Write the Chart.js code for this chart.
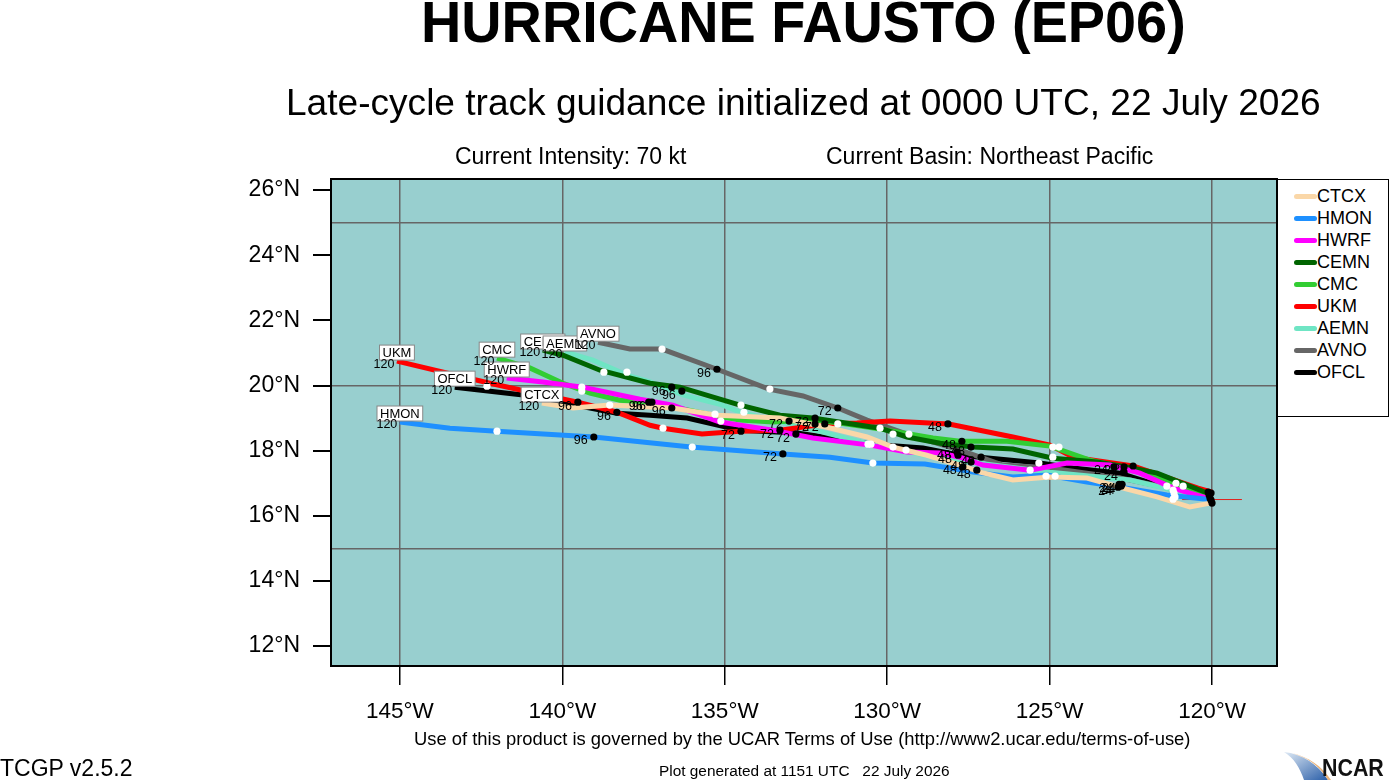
<!DOCTYPE html>
<html>
<head>
<meta charset="utf-8">
<title>Hurricane Fausto track guidance</title>
<script src="https://cdn.jsdelivr.net/npm/chart.js@4"></script>
<style>
  html, body { margin: 0; padding: 0; background: #fff; }
  body { width: 1389px; height: 780px; overflow: hidden; position: relative; font-family: "Liberation Sans", Arial, sans-serif; color: #000; }
  #wrap { position: absolute; left: 0; top: 0; width: 1389px; height: 780px; }
  .txt { position: absolute; white-space: nowrap; line-height: 1; }
  #legend { position: absolute; left: 1277px; top: 179px; width: 112px; height: 238px; box-sizing: border-box; border: 1.5px solid #000; background: #fff; }
  .lg { position: absolute; left: 0; font-size: 18px; line-height: 22px; height: 22px; }
  .lg i { position: absolute; left: 16px; top: 9px; width: 23px; height: 5px; border-radius: 3px; }
  .lg span { position: absolute; left: 39px; top: 0; }
</style>
</head>
<body>
<div id="wrap"><canvas id="myChart" width="1389" height="780"></canvas></div>

<div class="txt" style="left:421px;top:-7px;font-size:58px;font-weight:bold;transform:scaleX(0.962);transform-origin:left top">HURRICANE FAUSTO (EP06)</div>
<div class="txt" style="left:286px;top:84px;font-size:37.1px">Late-cycle track guidance initialized at 0000 UTC, 22 July 2026</div>
<div class="txt" style="left:455px;top:145px;font-size:23px">Current Intensity: 70 kt</div>
<div class="txt" style="left:826px;top:145px;font-size:23px">Current Basin: Northeast Pacific</div>
<div class="txt" style="left:414px;top:730px;font-size:18.4px">Use of this product is governed by the UCAR Terms of Use (http://www2.ucar.edu/terms-of-use)</div>
<div class="txt" style="left:0;top:757px;font-size:23px">TCGP v2.5.2</div>
<div class="txt" style="left:659px;top:763px;font-size:15.4px">Plot generated at 1151 UTC &nbsp; 22 July 2026</div>

<svg style="position:absolute;left:1282px;top:750px" width="50" height="30">
  <defs><linearGradient id="g" x1="0" y1="0" x2="1" y2="1"><stop offset="0" stop-color="#dfeaf5"/><stop offset="1" stop-color="#2a5ea8"/></linearGradient></defs>
  <path d="M2 2 C20 4 36 14 46 30 L22 30 C18 18 12 8 2 2 Z" fill="url(#g)"/>
  <path d="M10 3 C26 7 40 16 49 30 L46 30 C36 14 24 7 10 3 Z" fill="#e8b27a"/>
</svg>
<div class="txt" style="left:1322px;top:757px;font-size:23px;font-weight:bold;color:#111;transform:scaleX(0.93);transform-origin:left top">NCAR</div>

<div id="legend"></div>

<script>
'use strict';

/////// TICKS ///////
let lonTicks = [-145, -140, -135, -130, -125, -120];
let latTicks = [12, 14, 16, 18, 20, 22, 24, 26];
let latGrid = [15, 20, 25];

/////// TRACKS (deg lon / deg lat) ///////
let ctcxLon = [-120.06, -120.68, -121.69, -122.74, -123.85, -124.99, -126.13, -127.14, -127.76, -128.78, -129.82, -130.62, -131.85, -133.30, -135.24, -136.60, -137.30, -138.54, -139.67, -140.63];
let ctcxLat = [16.39, 16.27, 16.58, 16.85, 17.16, 17.19, 17.10, 17.34, 17.56, 17.86, 18.11, 18.42, 18.72, 19.00, 19.09, 19.31, 19.34, 19.40, 19.31, 19.46];

let hmonLon = [-120.15, -121.39, -122.62, -123.85, -125.08, -126.13, -127.30, -128.84, -130.44, -131.76, -133.21, -136.04, -139.03, -142.01, -143.46, -145.00];
let hmonLat = [16.51, 16.64, 16.85, 17.04, 17.25, 17.19, 17.34, 17.59, 17.62, 17.80, 17.90, 18.11, 18.42, 18.60, 18.69, 18.88];

let hwrfLon = [-120.15, -121.20, -122.22, -123.14, -124.46, -125.60, -127.05, -127.76, -128.37, -129.39, -130.53, -132.29, -133.52, -135.15, -136.60, -137.61, -139.37, -140.60, -141.71];
let hwrfLat = [16.54, 16.85, 17.31, 17.56, 17.62, 17.40, 17.56, 17.80, 17.93, 17.96, 18.17, 18.39, 18.63, 18.88, 19.40, 19.58, 19.95, 20.11, 20.23];

let cemnLon = [-120.15, -121.69, -122.62, -123.54, -124.90, -126.13, -127.36, -128.37, -129.39, -130.22, -132.29, -133.30, -134.53, -136.38, -137.30, -138.84, -139.98, -140.60];
let cemnLat = [16.70, 17.31, 17.50, 17.65, 17.77, 18.05, 18.11, 18.23, 18.42, 18.69, 19.00, 19.09, 19.40, 19.95, 20.07, 20.47, 20.93, 21.09];

let cmcLon = [-120.15, -120.99, -122.00, -123.76, -124.99, -126.31, -127.76, -128.59, -130.00, -131.46, -132.29, -133.52, -134.53, -135.36, -137.30, -138.23, -139.15, -139.98, -141.00, -142.01];
let cmcLat = [16.58, 16.94, 17.34, 17.71, 18.14, 18.29, 18.29, 18.39, 18.63, 18.85, 18.94, 18.88, 18.94, 19.09, 19.49, 19.55, 19.77, 20.07, 20.54, 20.84];

let ukmLon = [-120.00, -120.43, -122.43, -124.28, -124.99, -126.13, -128.10, -129.91, -130.93, -131.92, -133.30, -134.53, -135.70, -136.90, -137.30, -138.32, -139.52, -141.00, -142.23, -145.09];
let ukmLat = [16.73, 16.85, 17.53, 17.80, 18.17, 18.42, 18.82, 18.91, 18.85, 18.82, 18.63, 18.60, 18.51, 18.69, 18.78, 19.18, 19.49, 19.80, 20.07, 20.75];

let aemnLon = [-120.00, -122.52, -124.99, -128.37, -130.53, -131.05, -132.47, -134.53, -135.06, -136.29, -137.30, -138.01, -139.06, -139.92];
let aemnLat = [16.51, 17.10, 17.34, 17.77, 18.20, 18.33, 18.69, 19.18, 19.40, 19.71, 20.11, 20.32, 20.78, 21.03];

let avnoLon = [-120.00, -122.83, -124.99, -126.44, -127.05, -127.76, -129.30, -130.62, -131.52, -132.59, -133.64, -135.24, -136.93, -137.92, -138.90];
let avnoLat = [16.58, 17.16, 17.47, 17.56, 17.77, 18.02, 18.48, 18.94, 19.31, 19.68, 19.89, 20.50, 21.12, 21.12, 21.33];

let ofclLon = [-120.06, -121.39, -122.83, -124.28, -125.30, -127.14, -127.76, -128.90, -130.44, -132.78, -134.53, -136.16, -137.30, -138.32, -141.21, -143.31];
let ofclLat = [16.54, 16.85, 17.31, 17.47, 17.62, 17.80, 17.86, 18.08, 18.20, 18.54, 18.63, 19.00, 19.09, 19.15, 19.71, 19.95];

// current motion stub through the start point
let motionLon = [-120.92, -119.08];
let motionLat = [16.5, 16.5];

/////// FORECAST HOUR DOTS ///////
let hourLon = [-135.24, -139.03, -139.52, -138.32, -136.32, -136.63, -137.34, -137.24, -136.63,
  -131.52, -133.21, -134.50, -132.81, -133.30, -133.02, -132.22, -132.22, -131.92,
  -128.13, -127.70, -127.42, -127.82, -127.85, -127.11, -127.24, -127.42, -127.67,
  -122.43, -122.71, -123.02, -122.71, -122.77, -122.86, -122.89, -122.80,
  -120.12, -120.09, -120.06, -120.03, -120.00, -120.03];
let hourLat = [20.50, 18.42, 19.49, 19.18, 19.83, 19.95, 19.49, 19.49, 19.31,
  19.31, 17.90, 18.60, 18.51, 18.63, 18.91, 19.00, 18.82, 18.82,
  18.82, 18.29, 18.11, 17.86, 17.96, 17.80, 17.40, 17.65, 17.50,
  17.53, 17.50, 17.50, 17.34, 16.97, 16.97, 16.88, 16.91,
  16.73, 16.64, 16.54, 16.48, 16.39, 16.70];
let hourText = ['96', '96', '96', '96', '96', '96', '96', '96', '96',
  '72', '72', '72', '72', '72', '72', '72', '72', '72',
  '48', '48', '48', '48', '48', '48', '48', '48', '48',
  '24', '24', '24', '24', '24', '24', '24', '24',
  '', '', '', '', '', ''];

let midLon = [-142.01, -138.72, -138.01, -139.40, -139.40, -138.54, -142.32, -136.93, -133.61, -134.50, -134.41, -135.30, -135.12, -136.90, -136.00,
  -131.52, -130.22, -129.82, -129.33, -130.59, -130.50, -129.82, -129.42, -130.44,
  -124.90, -124.71, -124.90, -125.33, -125.60, -125.11, -124.83,
  -121.39, -121.11, -120.89, -121.20, -121.14, -121.17, -121.20];
let midLat = [18.60, 20.41, 20.41, 19.95, 19.83, 19.40, 19.98, 21.12, 19.89, 19.40, 19.18, 19.12, 18.91, 18.69, 18.11,
  18.82, 18.69, 18.51, 18.51, 18.20, 18.20, 18.11, 18.02, 17.62,
  18.11, 18.11, 17.80, 17.62, 17.40, 17.22, 17.22,
  16.91, 17.00, 16.91, 16.79, 16.58, 16.70, 16.51];

/////// MODELS, in legend order ///////
let models = ['CTCX', 'HMON', 'HWRF', 'CEMN', 'CMC', 'UKM', 'AEMN', 'AVNO', 'OFCL'];
let colors = ['#fad7a8', '#1e90ff', '#ff00ff', '#006400', '#32cd32', '#ff0000', '#6fe5c4', '#666666', '#000000'];
let lons = [ctcxLon, hmonLon, hwrfLon, cemnLon, cmcLon, ukmLon, aemnLon, avnoLon, ofclLon];
let lats = [ctcxLat, hmonLat, hwrfLat, cemnLat, cmcLat, ukmLat, aemnLat, avnoLat, ofclLat];

function toPoints(xs, ys) {
  let pts = [];
  for (let i = 0; i < xs.length; i++) {
    pts.push({ x: xs[i], y: ys[i] });
  }
  return pts;
}

let datasets = [];

// dots first so they sit over the tracks
datasets.push({ label: 'hours', data: toPoints(hourLon, hourLat), showLine: false, pointRadius: 3.6, pointBackgroundColor: '#000', pointBorderWidth: 0, order: 0 });
datasets.push({ label: 'mid', data: toPoints(midLon, midLat), showLine: false, pointRadius: 3.6, pointBackgroundColor: '#fff', pointBorderWidth: 0, order: 1 });

for (let i = 0; i < models.length; i++) {
  datasets.push({
    label: models[i],
    data: toPoints(lons[i], lats[i]),
    borderColor: colors[i],
    borderWidth: 5,
    pointRadius: 0,
    tension: 0,
    order: 2 + i
  });
}
datasets.push({ label: 'motion', data: toPoints(motionLon, motionLat), borderColor: '#e0201c', borderWidth: 1, pointRadius: 0, order: 20 });

/////// PLOT BACKGROUND ///////
const plotBack = {
  id: 'plotBack',
  beforeDraw(chart) {
    const a = chart.chartArea;
    chart.ctx.save();
    chart.ctx.fillStyle = '#98cfcf';
    chart.ctx.fillRect(a.left, a.top, a.right - a.left, a.bottom - a.top);
    chart.ctx.restore();
  },
  afterDraw(chart) {
    const a = chart.chartArea;
    chart.ctx.save();
    chart.ctx.strokeStyle = '#000';
    chart.ctx.lineWidth = 2;
    chart.ctx.strokeRect(a.left, a.top, a.right - a.left, a.bottom - a.top);
    chart.ctx.restore();
  }
};

/////// LABELS ON THE PLOT ///////
const trackLabels = {
  id: 'trackLabels',
  afterDatasetsDraw(chart) {
    const ctx = chart.ctx;
    const xs = chart.scales.x;
    const ys = chart.scales.y;
    ctx.save();
    ctx.textAlign = 'center';
    ctx.textBaseline = 'middle';

    // model name boxes at the end of each track
    ctx.font = '13px "Liberation Sans"';
    for (let i = 0; i < models.length; i++) {
      let n = lons[i].length - 1;
      let px = xs.getPixelForValue(lons[i][n]);
      let py = ys.getPixelForValue(lats[i][n]);
      let w = ctx.measureText(models[i]).width + 6;
      ctx.fillStyle = '#fff';
      ctx.strokeStyle = '#888';
      ctx.lineWidth = 1;
      ctx.fillRect(px - w / 2, py - 16, w, 15);
      ctx.strokeRect(px - w / 2, py - 16, w, 15);
      ctx.fillStyle = '#000';
      ctx.fillText(models[i], px, py - 8);
    }

    // hour labels
    ctx.font = '12.5px "Liberation Sans"';
    ctx.fillStyle = '#000';
    for (let i = 0; i < models.length; i++) {
      let n = lons[i].length - 1;
      ctx.fillText('120', xs.getPixelForValue(lons[i][n]) - 13, ys.getPixelForValue(lats[i][n]) + 3);
    }
    for (let i = 0; i < hourText.length; i++) {
      if (hourText[i]) {
        ctx.fillText(hourText[i], xs.getPixelForValue(hourLon[i]) - 13, ys.getPixelForValue(hourLat[i]) + 4);
      }
    }
    ctx.restore();
  }
};

/////// CHART ///////
const myChart = new Chart(document.getElementById('myChart'), {
  type: 'line',
  data: { datasets: datasets },
  plugins: [plotBack, trackLabels],
  options: {
    responsive: false,
    animation: false,
    devicePixelRatio: 1,
    layout: { padding: { top: 179, right: 112, left: 0, bottom: 0 } },
    plugins: { legend: { display: false }, title: { display: false }, tooltip: { enabled: false } },
    scales: {
      x: {
        type: 'linear',
        min: -147.12,
        max: -118.0,
        afterBuildTicks(s) { s.ticks = lonTicks.map(v => ({ value: v })); },
        afterFit(s) { s.height = 114; },
        border: { color: '#000', width: 2 },
        grid: { color: '#666', lineWidth: 1.5, tickColor: '#000', tickLength: 19 },
        ticks: {
          maxRotation: 0,
          autoSkip: false,
          padding: 13,
          color: '#000',
          font: { family: 'Liberation Sans', size: 22.5 },
          callback: v => Math.abs(v) + '°W'
        }
      },
      y: {
        type: 'linear',
        min: 11.39,
        max: 26.34,
        afterBuildTicks(s) { s.ticks = latTicks.map(v => ({ value: v })); },
        afterFit(s) { s.width = 331; },
        border: { color: '#000', width: 2 },
        grid: { drawOnChartArea: false, tickColor: '#000', tickLength: 18, lineWidth: 2 },
        ticks: {
          autoSkip: false,
          padding: 13,
          color: '#000',
          font: { family: 'Liberation Sans', size: 23 },
          callback: v => v + '°N'
        }
      },
      yGrid: {
        type: 'linear',
        position: 'right',
        min: 11.39,
        max: 26.34,
        afterBuildTicks(s) { s.ticks = latGrid.map(v => ({ value: v })); },
        afterFit(s) { s.width = 0; },
        border: { display: false },
        grid: { color: '#666', lineWidth: 1.5, drawTicks: false },
        ticks: { display: false }
      }
    }
  }
});

/////// LEGEND ///////
let legendBox = document.getElementById('legend');
for (let i = 0; i < models.length; i++) {
  let row = document.createElement('div');
  row.className = 'lg';
  row.style.top = (5 + i * 22) + 'px';
  row.style.width = '100%';
  let swatch = document.createElement('i');
  swatch.style.background = colors[i];
  let name = document.createElement('span');
  name.textContent = models[i];
  row.appendChild(swatch);
  row.appendChild(name);
  legendBox.appendChild(row);
}
</script>
</body>
</html>
